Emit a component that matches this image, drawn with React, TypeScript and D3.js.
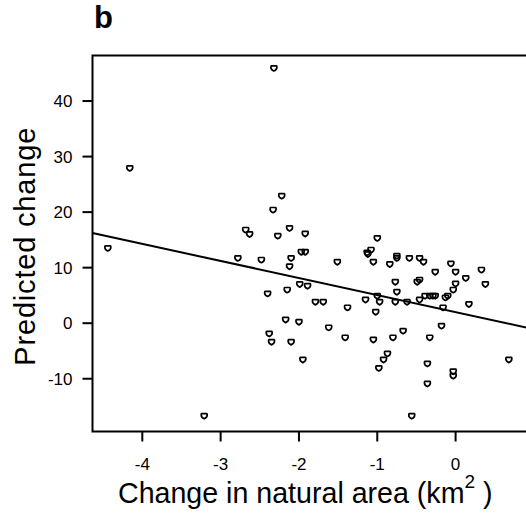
import React, { useEffect, useRef } from "react";
import * as d3 from "d3";

// change in natural area (km2) per unit
const areaChange = [
  -2.32, -4.16, -4.44, -3.21, -0.56, -2.22, -2.33, -2.68, -2.63, -2.27,
  -2.78, -2.48, -2.4, -2.38, -2.35, -2.12, -1.92, -1.97, -1.92, -2.1,
  -2.12, -1.51, -1.0, -1.08, -1.13, -1.12, -1.05, -0.84, -0.75, -0.75,
  -0.59, -0.46, -0.41, -0.26, -0.06, 0.0, 0.33, 0.13, 0.38, 0.0,
  -0.03, -0.77, -0.46, -0.49, -0.75, -1.99, -1.89, -2.15, -1.79, -1.69,
  -1.38, -1.15, -1.0, -0.97, -0.77, -0.62, -0.46, -0.39, -0.33, -0.29,
  -0.26, -0.13, -0.1, -0.16, 0.17, -1.02, -2.17, -2.0, -1.62, -0.18,
  -0.67, -0.33, -2.1, -1.41, -1.05, -0.8, -1.95, -0.87, -0.92, -0.98,
  -0.36, -0.03, -0.03, -0.36, 0.68,
];

// predicted change
const predicted = [
  45.9, 27.9, 13.5, -16.7, -16.7, 22.9, 20.4, 16.8, 16.0, 15.7,
  11.7, 11.4, 5.3, -1.9, -3.4, 17.1, 16.1, 12.8, 12.8, 11.7,
  10.2, 11.0, 15.3, 13.2, 12.7, 12.4, 11.0, 10.6, 12.1, 11.7,
  11.7, 11.7, 11.0, 9.2, 10.7, 9.2, 9.6, 8.1, 7.0, 7.1,
  6.0, 7.4, 7.8, 7.4, 5.6, 7.0, 6.7, 6.0, 3.8, 3.8,
  2.8, 4.2, 4.9, 3.8, 3.8, 3.8, 4.2, 4.9, 4.9, 4.9,
  4.9, 4.6, 4.9, 2.8, 3.4, 2.0, 0.6, 0.2, -0.8, -0.5,
  -1.4, -2.6, -3.4, -2.6, -3.0, -2.6, -6.6, -5.5, -6.6, -8.1,
  -7.3, -8.7, -9.5, -10.9, -6.6,
];

const xTicks = [-4, -3, -2, -1, 0];
const yTicks = [-10, 0, 10, 20, 30, 40];

// fitted regression line
const fitIntercept = 2.0;
const fitSlope = -3.07;

const font = "'Liberation Sans', Arial, sans-serif";

const App = () => {
  const ref = useRef<SVGSVGElement>(null);

  useEffect(() => {
    const width = 526;
    const height = 523;
    const left = 92.5;
    const top = 55.5;
    const right = 530;
    const bottom = 431.5;

    const svg = d3.select(ref.current);
    svg.selectAll("*").remove();
    svg.attr("width", width).attr("height", height);

    const x = d3.scaleLinear().domain([-4.636, 0.95]).range([left, right]);
    const y = d3.scaleLinear().domain([-19.5, 48.2]).range([bottom, top]);

    svg
      .append("text")
      .attr("x", 94)
      .attr("y", 28)
      .attr("font-family", font)
      .attr("font-weight", "bold")
      .attr("font-size", 31)
      .text("b");

    svg
      .append("defs")
      .append("clipPath")
      .attr("id", "plot-clip")
      .append("rect")
      .attr("x", left)
      .attr("y", top)
      .attr("width", right - left)
      .attr("height", bottom - top);

    const plot = svg.append("g").attr("clip-path", "url(#plot-clip)");

    plot
      .append("path")
      .attr(
        "d",
        d3
          .line<number>()
          .x((d) => x(d))
          .y((d) => y(fitIntercept + fitSlope * d))(x.domain())
      )
      .attr("stroke", "#000")
      .attr("stroke-width", 2)
      .attr("fill", "none");

    // small open shield-like marker
    const marker =
      "M-2.6,-2.4 L2.6,-2.4 C3,-2.4 3,-1.6 3,-1 C3,0.8 1.6,2.2 0,2.8 C-1.6,2.2 -3,0.8 -3,-1 C-3,-1.6 -3,-2.4 -2.6,-2.4 Z";

    plot
      .selectAll("path.pt")
      .data(areaChange.map((d, i) => [d, predicted[i]]))
      .join("path")
      .attr("class", "pt")
      .attr("d", marker)
      .attr("transform", (d) => `translate(${x(d[0])},${y(d[1])})`)
      .attr("fill", "none")
      .attr("stroke", "#000")
      .attr("stroke-width", 1.7);

    // frame
    svg
      .append("rect")
      .attr("x", left)
      .attr("y", top)
      .attr("width", right - left)
      .attr("height", bottom - top)
      .attr("fill", "none")
      .attr("stroke", "#000")
      .attr("stroke-width", 2);

    // y axis
    const yAxis = svg.append("g");
    yAxis
      .selectAll("line")
      .data(yTicks)
      .join("line")
      .attr("x1", left - 10)
      .attr("x2", left)
      .attr("y1", (d) => y(d))
      .attr("y2", (d) => y(d))
      .attr("stroke", "#000")
      .attr("stroke-width", 2);
    yAxis
      .selectAll("text")
      .data(yTicks)
      .join("text")
      .attr("x", 72.5)
      .attr("y", (d) => y(d))
      .attr("dy", "0.36em")
      .attr("text-anchor", "end")
      .attr("font-family", font)
      .attr("font-size", 17)
      .text((d) => d);

    // x axis
    const xAxis = svg.append("g");
    xAxis
      .selectAll("line")
      .data(xTicks)
      .join("line")
      .attr("x1", (d) => x(d))
      .attr("x2", (d) => x(d))
      .attr("y1", bottom)
      .attr("y2", bottom + 10)
      .attr("stroke", "#000")
      .attr("stroke-width", 2);
    xAxis
      .selectAll("text")
      .data(xTicks)
      .join("text")
      .attr("x", (d) => x(d))
      .attr("y", 470)
      .attr("text-anchor", "middle")
      .attr("font-family", font)
      .attr("font-size", 17)
      .text((d) => d);

    const xTitle = svg
      .append("text")
      .attr("x", 118)
      .attr("y", 503)
      .attr("font-family", font)
      .attr("font-size", 28.6);
    xTitle.append("tspan").text("Change in natural area (km");
    xTitle.append("tspan").attr("font-size", 19).attr("dy", -15).text("2");
    xTitle.append("tspan").attr("dy", 15).text(" )");

    svg
      .append("text")
      .attr("transform", "translate(34.5,246.7) rotate(-90)")
      .attr("text-anchor", "middle")
      .attr("font-family", font)
      .attr("font-size", 29)
      .attr("textLength", 238)
      .attr("lengthAdjust", "spacing")
      .text("Predicted change");
  }, []);

  return (
    <svg
      ref={ref}
      style={{ position: "absolute", left: 0, top: 0, background: "#fff" }}
    />
  );
};

export default App;
